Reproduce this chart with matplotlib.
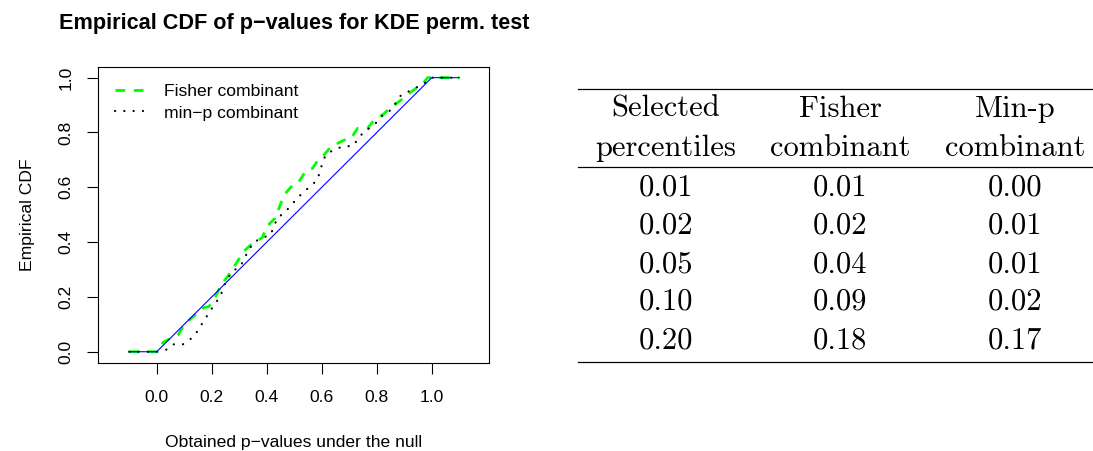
import matplotlib
matplotlib.use('Agg')
from matplotlib import pyplot as plt
from matplotlib.lines import Line2D

# ECDF values
fisher_x = [-0.1, 0.0, 0.024, 0.079, 0.10, 0.128, 0.17, 0.19, 0.213, 0.237, 0.255, 0.286, 0.316,
            0.353, 0.383, 0.40, 0.43, 0.456, 0.468, 0.50, 0.517, 0.54, 0.566, 0.59, 0.608,
            0.633, 0.681, 0.706, 0.73, 0.766, 0.79, 0.827, 0.845, 0.888, 0.925, 0.973, 0.985,
            1.0, 1.1]
fisher_y = [0.0, 0.0, 0.035, 0.063, 0.10, 0.124, 0.16, 0.165, 0.20, 0.25, 0.27, 0.318, 0.366,
            0.40, 0.415, 0.457, 0.487, 0.554, 0.578, 0.615, 0.62, 0.657, 0.669, 0.705, 0.718,
            0.748, 0.772, 0.778, 0.815, 0.815, 0.845, 0.869, 0.887, 0.918, 0.948, 0.985, 1.0,
            1.0, 1.0]

minp_x = [-0.1, 0.0, 0.036, 0.06, 0.095, 0.115, 0.14, 0.176, 0.213, 0.231, 0.243, 0.274, 0.304,
          0.319, 0.335, 0.353, 0.383, 0.414, 0.438, 0.468, 0.487, 0.511, 0.535, 0.56, 0.584,
          0.602, 0.614, 0.645, 0.681, 0.712, 0.748, 0.772, 0.797, 0.827, 0.852, 0.888, 0.912,
          0.973, 0.995, 1.0, 1.1]
minp_y = [0.0, 0.0, 0.008, 0.027, 0.027, 0.039, 0.063, 0.12, 0.178, 0.20, 0.239, 0.293, 0.311,
          0.342, 0.372, 0.40, 0.415, 0.427, 0.487, 0.511, 0.533, 0.56, 0.584, 0.605, 0.627,
          0.687, 0.718, 0.738, 0.75, 0.75, 0.797, 0.815, 0.835, 0.869, 0.882, 0.936, 0.948,
          0.979, 0.996, 1.0, 1.0]

null_x = [-0.1, 0.0, 1.0, 1.1]
null_y = [0.0, 0.0, 1.0, 1.0]

x_ticks = [0.0, 0.2, 0.4, 0.6, 0.8, 1.0]
y_ticks = [0.0, 0.2, 0.4, 0.6, 0.8, 1.0]

# table contents
table_header = [['Selected', 'Fisher', 'Min-p'],
                ['percentiles', 'combinant', 'combinant']]
percentiles = ['0.01', '0.02', '0.05', '0.10', '0.20']
fisher_vals = ['0.01', '0.02', '0.04', '0.09', '0.18']
minp_vals = ['0.00', '0.01', '0.01', '0.02', '0.17']

W, H = 1093, 451
plt.rcParams['font.family'] = ['Liberation Sans', 'DejaVu Sans']
plt.rcParams['lines.scale_dashes'] = False


def fx(px):
	return px / W


def fy(py):
	return 1 - py / H


fig = plt.figure(figsize=(W / 100, H / 100), dpi=100)

# left panel: empirical CDFs
ax = fig.add_axes([fx(98.3), fy(362.7), fx(489.3) - fx(98.3), fy(66.7) - fy(362.7)])
ax.plot(fisher_x, fisher_y, color='#00ff00', lw=2.0, linestyle=(0, (7, 6.2)),
		dash_capstyle='butt', label='Fisher combinant')
ax.plot(minp_x, minp_y, color='black', lw=1.6, linestyle=(0, (0.1, 6.6)),
		dash_capstyle='round', label='min\u2212p combinant')
ax.plot(null_x, null_y, color='blue', lw=0.8)

ax.set_xlim(-0.2125, 1.209)
ax.set_ylim(-0.04, 1.04)
ax.set_xticks(x_ticks)
ax.set_yticks(y_ticks)
ax.set_xticklabels([f'{t:.1f}' for t in x_ticks])
ax.set_yticklabels([f'{t:.1f}' for t in y_ticks], rotation=90, va='center')
ax.tick_params(axis='both', direction='out', length=8, width=0.8, labelsize=12.6, pad=10)
ax.tick_params(axis='x', pad=12)
for spine in ax.spines.values():
	spine.set_linewidth(0.8)

ax.set_title('Empirical CDF of p\u2212values for KDE perm. test', fontsize=15.6,
			 fontweight='bold', pad=27)
ax.set_xlabel('Obtained p\u2212values under the null', fontsize=12.6, labelpad=21)
ax.set_ylabel('Empirical CDF', fontsize=12.6, labelpad=17)

ax.legend(loc='upper left', bbox_to_anchor=(0.012, 0.985), frameon=False, fontsize=12.6,
		  handlelength=1.6, handletextpad=1.2, labelspacing=0.38, borderaxespad=0.3)

# right panel: booktabs-style table
col_x = [665.6, 840.2, 1014.8]
fs = 22
rule_lw = 0.9
for rule_y in [89.3, 167.3, 361.7]:
	fig.add_artist(Line2D([fx(578), fx(1093)], [fy(rule_y), fy(rule_y)],
						  color='black', lw=rule_lw, transform=fig.transFigure))

header_base = [116.7, 156.0]
for row, base in zip(table_header, header_base):
	for text, cx in zip(row, col_x):
		fig.text(fx(cx), fy(base), text, family='cmr10', fontsize=fs, ha='center', va='baseline')

row_base = [195.0, 234.0, 272.3, 310.0, 348.3]
for i, base in enumerate(row_base):
	for text, cx in zip([percentiles[i], fisher_vals[i], minp_vals[i]], col_x):
		fig.text(fx(cx), fy(base), text, family='cmr10', fontsize=fs, ha='center', va='baseline')

plt.savefig('out.png', dpi=100)
